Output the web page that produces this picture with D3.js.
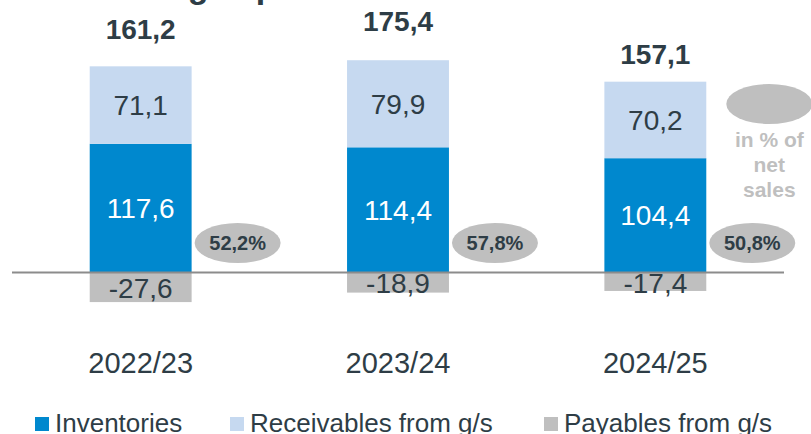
<!DOCTYPE html>
<html lang="en">
<head>
    <meta charset="UTF-8">
    <title>Net working capital | D3</title>
    <style>
        body { margin: 0; background: #fff; }
        svg { display: block; font-family: "Liberation Sans", Arial, sans-serif; }
    </style>
</head>
<body>
    <div id="container"></div>

    <script type="text/javascript" src="https://d3js.org/d3.v7.min.js"></script>
    <script type="text/javascript">
        // Data.
        var years = ["2022/23", "2023/24", "2024/25"];
        var inventories = [117.6, 114.4, 104.4];
        var receivables = [71.1, 79.9, 70.2];
        var payables = [-27.6, -18.9, -17.4];
        var totals = ["161,2", "175,4", "157,1"];
        var shareOfSales = ["52,2%", "57,8%", "50,8%"];
        var legendLabels = ["Inventories", "Receivables from g/s", "Payables from g/s"];

        // Layout only (not data): how far each total sits above its bar.
        var totalGap = [27, 29, 18];

        var width = 811, height = 434;
        var textColor = "#2e3d46";
        var colors = { inv: "#0088ce", rec: "#c6d9f0", pay: "#bfbfbf" };

        var fmt = function(v) { return String(v).replace(".", ","); };

        var svg = d3.select("#container")
            .append("svg")
            .attr("width", width)
            .attr("height", height);

        var x = d3.scaleBand()
            .domain(years)
            .range([12, 784])
            .paddingInner(0.604)
            .paddingOuter(0.302);

        var y = d3.scaleLinear()
            .domain([-30, 200])
            .range([272 + 30 * 1.09, 272 - 200 * 1.09]);

        // Cut-off title at the very top (only descenders show).
        svg.append("text")
            .attr("x", 14)
            .attr("y", -2)
            .attr("fill", textColor)
            .style("font-size", "34px")
            .style("font-weight", "bold")
            .text("Net working capital");

        // One group per year with its stacked segments.
        var rows = years.map(function(yr, i) {
            return { year: yr, inv: inventories[i], rec: receivables[i], pay: payables[i], i: i };
        });

        var bars = svg.append("g").attr("class", "bars")
            .selectAll("g")
            .data(rows)
            .enter()
            .append("g");

        // Inventories: 0 -> inv
        bars.append("rect")
            .attr("x", function(d) { return x(d.year); })
            .attr("width", x.bandwidth())
            .attr("y", function(d) { return y(d.inv); })
            .attr("height", function(d) { return y(0) - y(d.inv); })
            .attr("fill", colors.inv);

        // Receivables: inv -> inv + rec
        bars.append("rect")
            .attr("x", function(d) { return x(d.year); })
            .attr("width", x.bandwidth())
            .attr("y", function(d) { return y(d.inv + d.rec); })
            .attr("height", function(d) { return y(d.inv) - y(d.inv + d.rec); })
            .attr("fill", colors.rec);

        // Payables: 0 -> negative
        bars.append("rect")
            .attr("x", function(d) { return x(d.year); })
            .attr("width", x.bandwidth())
            .attr("y", y(0))
            .attr("height", function(d) { return y(d.pay) - y(0); })
            .attr("fill", colors.pay);

        // Zero line
        svg.append("line")
            .attr("x1", 12)
            .attr("x2", 784)
            .attr("y1", y(0) + 0.5)
            .attr("y2", y(0) + 0.5)
            .attr("stroke", "#8c8c8c")
            .attr("stroke-width", 2);

        var cx = function(d) { return x(d.year) + x.bandwidth() / 2; };

        // Segment labels
        bars.append("text")
            .attr("x", cx)
            .attr("y", function(d) { return (y(d.inv) + y(d.inv + d.rec)) / 2; })
            .attr("dy", "0.36em")
            .attr("text-anchor", "middle")
            .attr("fill", textColor)
            .style("font-size", "28px")
            .text(function(d) { return fmt(d.rec); });

        bars.append("text")
            .attr("x", cx)
            .attr("y", function(d) { return (y(0) + y(d.inv)) / 2; })
            .attr("dy", "0.36em")
            .attr("text-anchor", "middle")
            .attr("fill", "#fff")
            .style("font-size", "28px")
            .text(function(d) { return fmt(d.inv); });

        bars.append("text")
            .attr("x", cx)
            .attr("y", function(d) { return (y(0) + y(d.pay)) / 2 + 1; })
            .attr("dy", "0.36em")
            .attr("text-anchor", "middle")
            .attr("fill", textColor)
            .style("font-size", "28px")
            .text(function(d) { return fmt(d.pay); });

        // Totals above bars
        bars.append("text")
            .attr("x", cx)
            .attr("y", function(d) { return y(d.inv + d.rec) - totalGap[d.i]; })
            .attr("text-anchor", "middle")
            .attr("fill", textColor)
            .style("font-size", "28px")
            .style("font-weight", "bold")
            .text(function(d) { return totals[d.i]; });

        // Percentage bubbles to the right of each bar
        var bubble = bars.append("g")
            .attr("transform", function(d) {
                return "translate(" + (x(d.year) + x.bandwidth() + 46) + ",243)";
            });

        bubble.append("ellipse")
            .attr("rx", 43)
            .attr("ry", 20)
            .attr("fill", "#bfbfbf");

        bubble.append("text")
            .attr("dy", "0.36em")
            .attr("text-anchor", "middle")
            .attr("fill", textColor)
            .style("font-size", "20px")
            .style("font-weight", "bold")
            .text(function(d) { return shareOfSales[d.i]; });

        // Bubble legend: "in % of net sales"
        var note = svg.append("g")
            .attr("transform", "translate(" + (x(years[2]) + x.bandwidth() + 63) + ",0)");

        note.append("ellipse")
            .attr("cy", 104)
            .attr("rx", 43)
            .attr("ry", 20)
            .attr("fill", "#bfbfbf");

        note.selectAll("text.note")
            .data(["in % of", "net", "sales"])
            .enter()
            .append("text")
            .attr("class", "note")
            .attr("y", function(d, i) { return 147 + i * 25; })
            .attr("text-anchor", "middle")
            .attr("fill", "#bfbfbf")
            .style("font-size", "21px")
            .style("font-weight", "bold")
            .text(function(d) { return d; });

        // Category labels
        svg.append("g")
            .selectAll("text")
            .data(years)
            .enter()
            .append("text")
            .attr("x", function(d) { return x(d) + x.bandwidth() / 2; })
            .attr("y", 373)
            .attr("text-anchor", "middle")
            .attr("fill", textColor)
            .style("font-size", "29px")
            .text(function(d) { return d; });

        // Legend
        var legendX = [35, 230, 544];
        var legendColors = [colors.inv, colors.rec, colors.pay];
        var legend = svg.append("g")
            .selectAll("g")
            .data(legendLabels)
            .enter()
            .append("g")
            .attr("transform", function(d, i) { return "translate(" + legendX[i] + ",0)"; });

        legend.append("rect")
            .attr("y", 417)
            .attr("width", 14)
            .attr("height", 14)
            .attr("fill", function(d, i) { return legendColors[i]; });

        legend.append("text")
            .attr("x", 20)
            .attr("y", 432)
            .attr("fill", textColor)
            .style("font-size", "26px")
            .text(function(d) { return d; });
    </script>
</body>
</html>
